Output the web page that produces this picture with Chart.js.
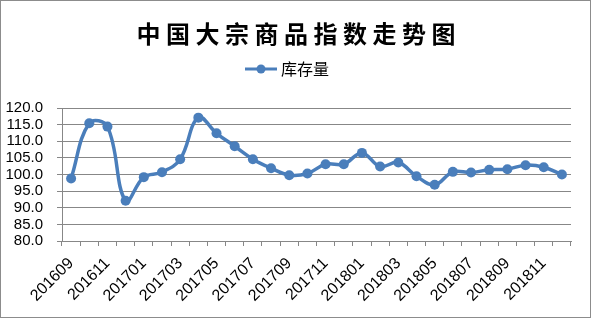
<!DOCTYPE html>
<html><head><meta charset="utf-8">
<script src="https://cdn.jsdelivr.net/npm/chart.js@4/dist/chart.umd.min.js"></script>
<style>html,body{margin:0;padding:0;background:#fff}#wrap{width:591px;height:318px}</style>
</head><body><div id="wrap"><canvas id="c" width="591" height="318"></canvas></div>
<script>
const chartTitle = "中国大宗商品指数走势图";
const seriesName = "库存量";
const categories = ["201609","201610","201611","201612","201701","201702","201703","201704","201705","201706","201707","201708","201709","201710","201711","201712","201801","201802","201803","201804","201805","201806","201807","201808","201809","201810","201811","201812"];
const values = [98.8,115.4,114.4,92.1,99.2,100.7,104.6,117.1,112.4,108.5,104.6,101.9,99.8,100.3,103.1,103.1,106.5,102.4,103.6,99.5,96.9,100.8,100.6,101.4,101.6,102.8,102.2,100.0];
const yTicks = {min: 80, max: 120, step: 5};

const BLUE = '#4A7EBB';
const GRID = '#878787';

const decor = {
  id: 'decor',
  afterDraw(chart) {
    const ctx = chart.ctx;
    ctx.save();
    ctx.strokeStyle = '#8c8c8c';
    ctx.lineWidth = 1;
    ctx.strokeRect(0.5, 0.5, 590, 317);
    ctx.fillStyle = '#000';
    ctx.font = "bold 24px 'Noto Sans CJK SC'";
    ctx.textAlign = 'center';
    ctx.textBaseline = 'middle';
    try { ctx.letterSpacing = '5.5px'; } catch(e) {}
    ctx.fillText(chartTitle, 296 + 2.75, 34);
    try { ctx.letterSpacing = '0px'; } catch(e) {}
    const ly = 69;
    ctx.strokeStyle = BLUE;
    ctx.lineWidth = 3;
    ctx.beginPath(); ctx.moveTo(245, ly); ctx.lineTo(277, ly); ctx.stroke();
    ctx.fillStyle = BLUE;
    ctx.beginPath(); ctx.arc(261, ly, 4.5, 0, Math.PI*2); ctx.fill();
    ctx.fillStyle = '#000';
    ctx.font = "16px 'Noto Sans CJK SC'";
    ctx.textAlign = 'left';
    ctx.fillText(chart.data.datasets[0].label, 281, ly);
    ctx.restore();
  }
};

new Chart(document.getElementById('c'), {
  type: 'line',
  data: {
    labels: categories,
    datasets: [{
      label: seriesName,
      data: values,
      borderColor: BLUE,
      backgroundColor: BLUE,
      borderWidth: 3.5,
      pointRadius: 5,
      pointBackgroundColor: BLUE,
      pointBorderColor: BLUE,
      pointBorderWidth: 0,
      tension: 0.4,
      fill: false
    }]
  },
  options: {
    responsive: false,
    animation: false,
    devicePixelRatio: 1,
    layout: {padding: {top: 108, left: 6, right: 20, bottom: 0}},
    plugins: {legend: {display: false}, title: {display: false}, tooltip: {enabled: false}},
    scales: {
      x: {
        offset: true,
        afterFit(s) { s.height = 77; },
        grid: {offset: true, drawOnChartArea: false, drawTicks: true, tickLength: 5, color: GRID},
        border: {color: GRID, width: 1},
        ticks: {
          autoSkip: false, minRotation: 45, maxRotation: 45, padding: 8,
          color: '#000', font: {family: "'Liberation Sans', Arial", size: 16},
          callback(v, i) { return i % 2 === 0 ? categories[i] : ''; }
        }
      },
      y: {
        min: yTicks.min, max: yTicks.max,
        afterFit(s) { s.width = 56; },
        grid: {color: GRID, drawTicks: true, tickLength: 5},
        border: {color: GRID, width: 1},
        ticks: {
          stepSize: yTicks.step, autoSkip: false, padding: 14, color: '#000',
          font: {family: "'Liberation Sans', Arial", size: 15},
          callback(v) { return Number(v).toFixed(1); }
        }
      }
    }
  },
  plugins: [decor]
});
</script></body></html>
